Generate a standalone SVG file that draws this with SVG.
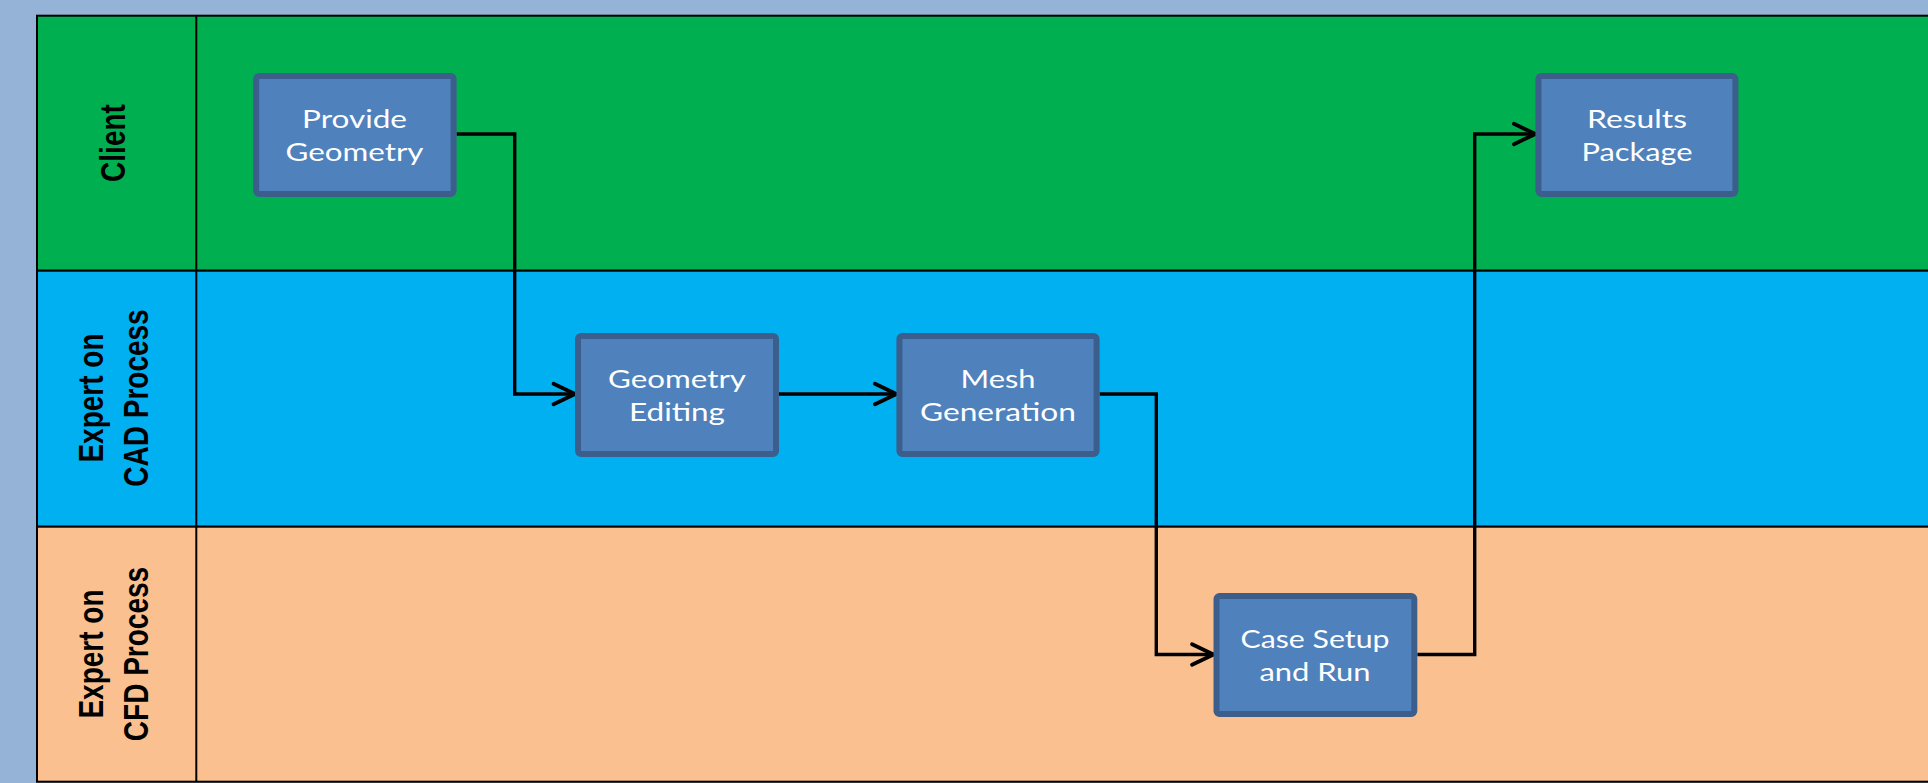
<svg xmlns="http://www.w3.org/2000/svg" width="1928" height="783" viewBox="0 0 1928 783">
<style>
.lane{stroke:#000;stroke-width:2}
.box{fill:#4F81BD;stroke:#3B5E8C;stroke-width:6}
.bt{font-family:Lato,"Open Sans",sans-serif;font-size:24.5px;fill:#fff;text-anchor:middle}
.lt{font-family:"Liberation Sans",Arial,sans-serif;font-size:28px;font-weight:bold;fill:#000;text-anchor:middle}
.conn{fill:none;stroke:#000;stroke-width:3.4;stroke-linejoin:miter}
</style>
<defs>
<marker id="arr" markerUnits="userSpaceOnUse" markerWidth="30" markerHeight="30" refX="0" refY="0" viewBox="-24 -14 28 28" orient="auto" overflow="visible">
<path d="M -20 -9.5 L 0 0 L -20 9.5" fill="none" stroke="#000" stroke-width="3.6" stroke-linecap="round" stroke-linejoin="miter"/>
</marker>
</defs>
<rect x="0" y="0" width="1928" height="783" fill="#95B3D7"/>
<g id="lanes">
<rect class="lane" x="37" y="15.7" width="1900" height="255" fill="#00B050"/>
<rect class="lane" x="37" y="270.7" width="1900" height="256" fill="#00B0F0"/>
<rect class="lane" x="37" y="526.7" width="1900" height="255" fill="#FAC090"/>
<line class="lane" x1="196.3" y1="15.7" x2="196.3" y2="781.7"/>
</g>
<g id="lane-labels">
<text class="lt" transform="translate(124.5,143) scale(1.25,1) rotate(-90)" x="0" y="0">Client</text>
<text class="lt" transform="translate(102.7,398) scale(1.25,1) rotate(-90)"><tspan x="0" y="0">Expert on</tspan><tspan x="0" y="36.5">CAD Process</tspan></text>
<text class="lt" transform="translate(102.7,654) scale(1.25,1) rotate(-90)"><tspan x="0" y="0">Expert on</tspan><tspan x="0" y="36.5">CFD Process</tspan></text>
</g>
<g id="connectors">
<path class="conn" d="M 456.6 134 H 514.7 V 394 H 575" marker-end="url(#arr)"/>
<path class="conn" d="M 779 394 H 896.4" marker-end="url(#arr)"/>
<path class="conn" d="M 1099.6 394 H 1156.3 V 654.5 H 1213.5" marker-end="url(#arr)"/>
<path class="conn" d="M 1417.3 654.5 H 1474.7 V 134 H 1535.4" marker-end="url(#arr)"/>
</g>
<g id="provide-geometry">
<rect class="box" x="256.2" y="76" width="197.4" height="118" rx="3"/>
<text class="bt" x="354.5" y="127.5" textLength="105" lengthAdjust="spacingAndGlyphs">Provide</text>
<text class="bt" x="354.5" y="161" textLength="138" lengthAdjust="spacingAndGlyphs">Geometry</text>
</g>
<g id="geometry-editing">
<rect class="box" x="578" y="336" width="198" height="118" rx="3"/>
<text class="bt" x="677" y="387.5" textLength="138" lengthAdjust="spacingAndGlyphs">Geometry</text>
<text class="bt" x="677" y="421" textLength="96" lengthAdjust="spacingAndGlyphs">Editing</text>
</g>
<g id="mesh-generation">
<rect class="box" x="899.4" y="336" width="197.2" height="118" rx="3"/>
<text class="bt" x="998" y="387.5" textLength="75" lengthAdjust="spacingAndGlyphs">Mesh</text>
<text class="bt" x="998" y="421" textLength="156" lengthAdjust="spacingAndGlyphs">Generation</text>
</g>
<g id="case-setup">
<rect class="box" x="1216.5" y="596" width="197.8" height="118" rx="3"/>
<text class="bt" x="1315" y="647.5" textLength="149" lengthAdjust="spacingAndGlyphs">Case Setup</text>
<text class="bt" x="1315" y="681" textLength="111" lengthAdjust="spacingAndGlyphs">and Run</text>
</g>
<g id="results-package">
<rect class="box" x="1538.4" y="76" width="197" height="118" rx="3"/>
<text class="bt" x="1637" y="127.5" textLength="100" lengthAdjust="spacingAndGlyphs">Results</text>
<text class="bt" x="1637" y="161" textLength="111" lengthAdjust="spacingAndGlyphs">Package</text>
</g>
</svg>
